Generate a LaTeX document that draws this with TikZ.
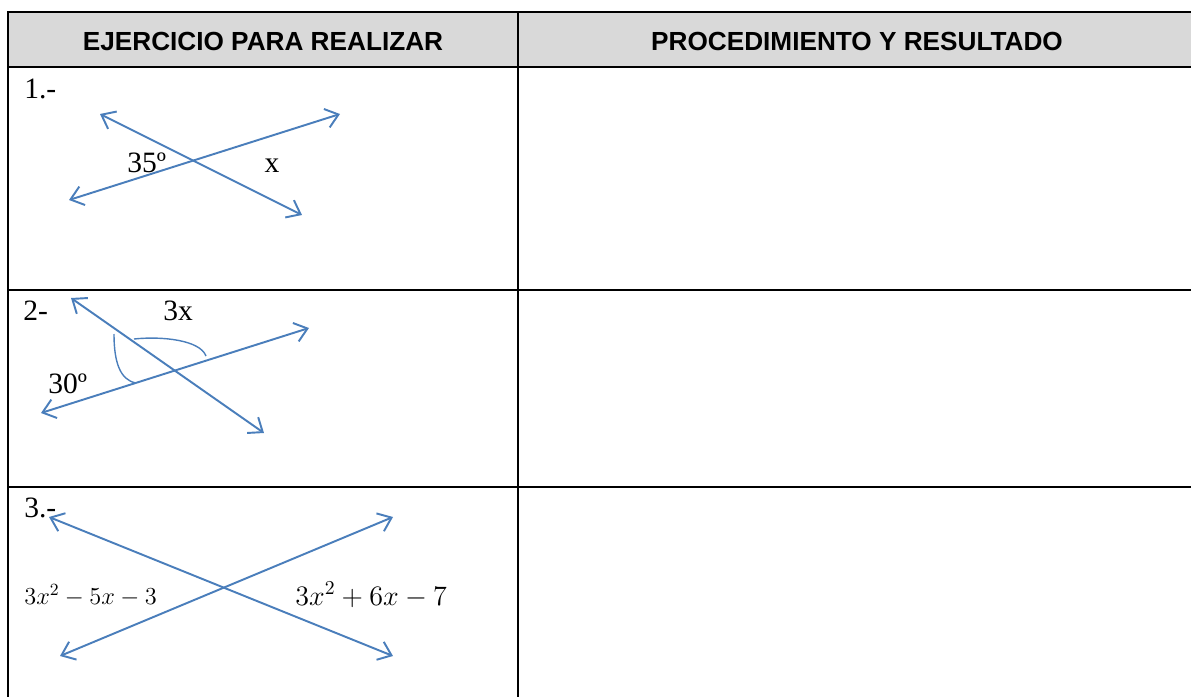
\documentclass[tikz,border=0pt]{standalone}
\usepackage{fix-cm}
\usepackage{fontspec}
\setmainfont{Liberation Serif}
\newfontfamily\headfont{Liberation Sans}
\usetikzlibrary{arrows.meta}
\definecolor{linea}{RGB}{74,126,187}
\definecolor{cabeza}{RGB}{217,217,217}

\begin{document}
\begin{tikzpicture}[x=0.02cm,y=-0.02cm,
        >={Straight Barb[length=7pt,width=11pt]},
        recta/.style={draw=linea,line width=1.1pt,<->},
        marca/.style={draw=linea,line width=0.8pt},
        borde/.style={line width=1.5pt},
        titulo/.style={font=\headfont\bfseries\fontsize{14.9}{17}\selectfont},
        etiqueta/.style={inner sep=0pt,font=\fontsize{16.8}{20}\selectfont},
        expr/.style={inner sep=0pt,font=\fontsize{#1}{20}\selectfont}]
    \useasboundingbox (0,0) rectangle (1191,697);
    \clip (0,0) rectangle (1191,697);
    % tabla
    \fill[cabeza] (8,12) rectangle (1200,67);
    \draw[borde] (1200,12) -- (8,12) -- (8,700);
    \draw[borde] (518,12) -- (518,700);
    \draw[borde] (8,67) -- (1200,67);
    \draw[borde] (8,290) -- (1200,290);
    \draw[borde] (8,487) -- (1200,487);
    \node[titulo] (h1) at (263,41) {EJERCICIO PARA REALIZAR};
    \node[titulo] (h2) at (857,41) {PROCEDIMIENTO Y RESULTADO};
    % ejercicio 1
    \node[etiqueta,anchor=base west] (n1) at (24,98) {1.-};
    \coordinate (a1) at (100,114);
    \coordinate (b1) at (302,215);
    \coordinate (c1) at (69,200);
    \coordinate (d1) at (340,114);
    \draw[recta] (a1) -- (b1);
    \draw[recta] (c1) -- (d1);
    \node[etiqueta,anchor=base west] (ang1) at (127,172) {35º};
    \node[etiqueta,anchor=base] (x1) at (272,172) {x};
    % ejercicio 2
    \node[etiqueta,anchor=base west] (n2) at (23,320) {2-};
    \coordinate (a2) at (71,298);
    \coordinate (b2) at (264,433);
    \coordinate (c2) at (41,413);
    \coordinate (d2) at (309,328);
    \draw[recta] (a2) -- (b2);
    \draw[recta] (c2) -- (d2);
    \draw[marca] (114,334) .. controls (114,362) and (120,380) .. (136,383);
    \draw[marca] (134,339) .. controls (162,336) and (200,340) .. (206,356);
    \node[etiqueta,anchor=base west] (ang2) at (163,320) {3x};
    \node[etiqueta,anchor=base west] (ang3) at (48,393) {30º};
    % ejercicio 3
    \node[etiqueta,anchor=base west] (n3) at (24,517) {3.-};
    \coordinate (a3) at (49,517);
    \coordinate (b3) at (393,656);
    \coordinate (c3) at (60,656);
    \coordinate (d3) at (393,517);
    \draw[recta] (a3) -- (b3);
    \draw[recta] (c3) -- (d3);
    \node[expr=13.9,anchor=base west] (e1) at (24,604) {$3x^2-5x-3$};
    \node[expr=16,anchor=base west] (e2) at (295,605) {$3x^2+6x-7$};
\end{tikzpicture}
\end{document}
